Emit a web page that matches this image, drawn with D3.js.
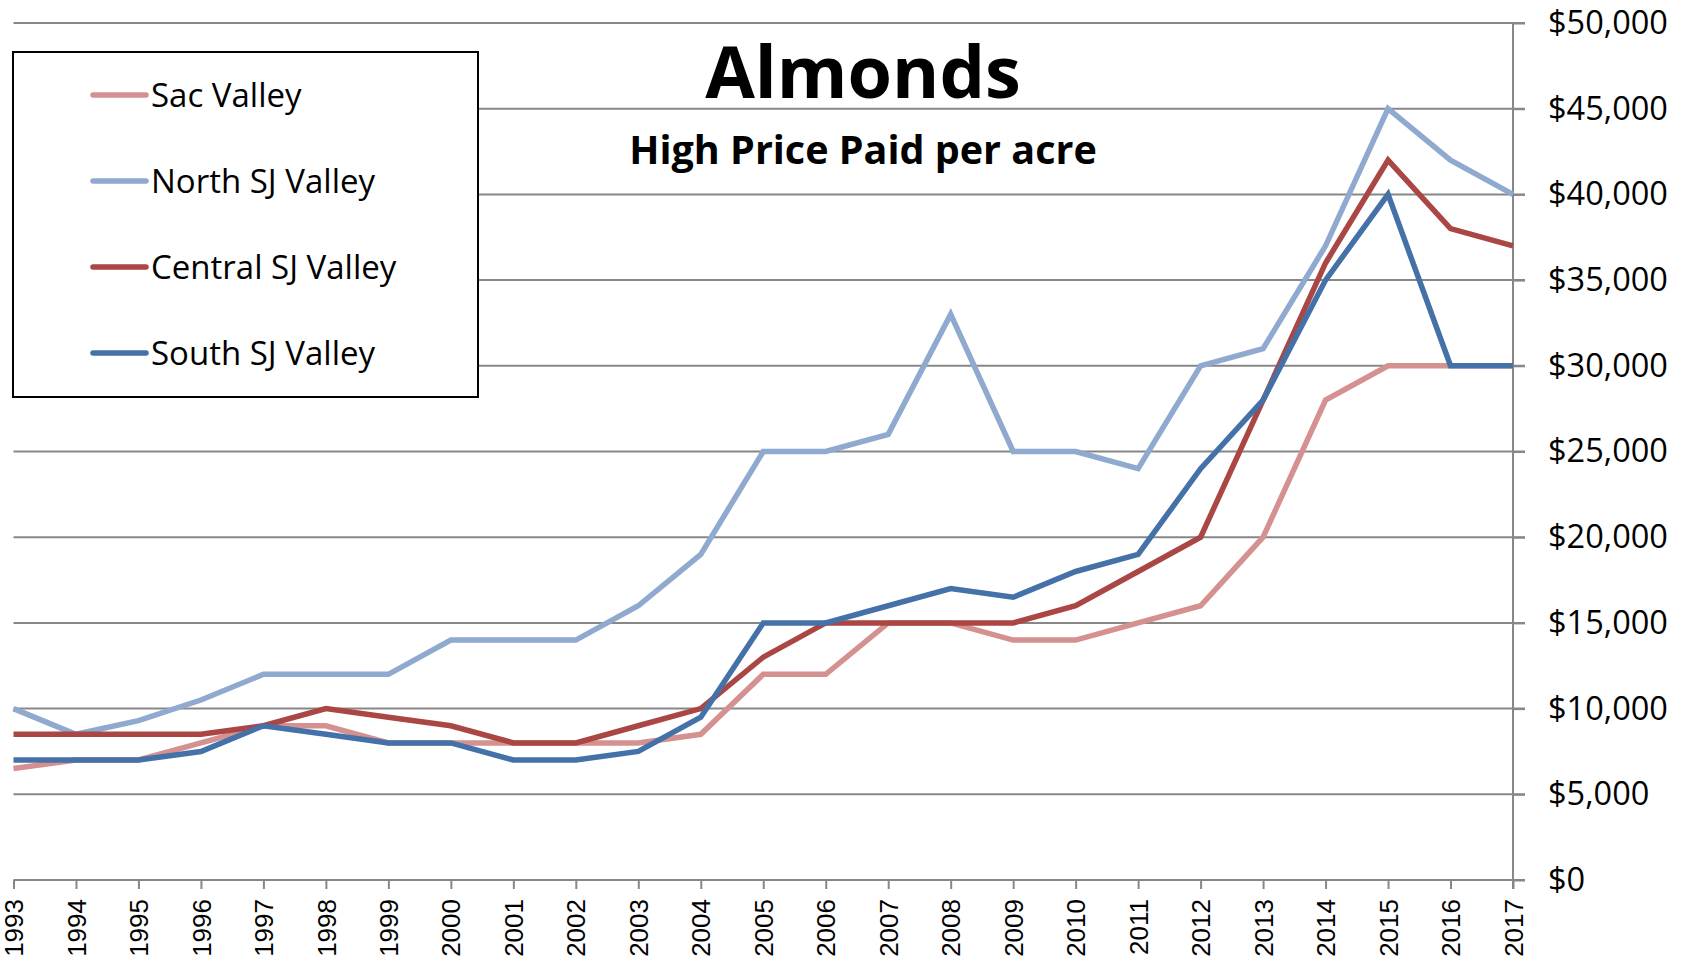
<!DOCTYPE html>
<html>
<head>
<meta charset="utf-8">
<script src="https://cdn.jsdelivr.net/npm/d3@7"></script>
<style>
  body { margin: 0; background: #fff; }
  svg { display: block; }
</style>
</head>
<body>
<div id="chart"></div>
<script>
// values
var years = [1993, 1994, 1995, 1996, 1997, 1998, 1999, 2000, 2001, 2002, 2003, 2004, 2005,
             2006, 2007, 2008, 2009, 2010, 2011, 2012, 2013, 2014, 2015, 2016, 2017];

var sacValley = [6500, 7000, 7000, 8000, 9000, 9000, 8000, 8000, 8000, 8000, 8000, 8500, 12000,
                 12000, 15000, 15000, 14000, 14000, 15000, 16000, 20000, 28000, 30000, 30000, 30000];
var northSJ = [10000, 8500, 9300, 10500, 12000, 12000, 12000, 14000, 14000, 14000, 16000, 19000, 25000,
               25000, 26000, 33000, 25000, 25000, 24000, 30000, 31000, 37000, 45000, 42000, 40000];
var centralSJ = [8500, 8500, 8500, 8500, 9000, 10000, 9500, 9000, 8000, 8000, 9000, 10000, 13000,
                 15000, 15000, 15000, 15000, 16000, 18000, 20000, 28000, 36000, 42000, 38000, 37000];
var southSJ = [7000, 7000, 7000, 7500, 9000, 8500, 8000, 8000, 7000, 7000, 7500, 9500, 15000,
               15000, 16000, 17000, 16500, 18000, 19000, 24000, 28000, 35000, 40000, 30000, 30000];

var seriesNames = ["Sac Valley", "North SJ Valley", "Central SJ Valley", "South SJ Valley"];
var seriesColors = ["#d49190", "#8fa9cf", "#aa4643", "#4471a7"];
var yTicks = [0, 5000, 10000, 15000, 20000, 25000, 30000, 35000, 40000, 45000, 50000];

var series = [sacValley, northSJ, centralSJ, southSJ].map(function(vals, i) {
    return { name: seriesNames[i], color: seriesColors[i], values: vals };
});

// note: "top" is a read-only window global, so use plot* names
var width = 1689, height = 961;
var plotLeft = 13.5, plotRight = 1513, plotTop = 23, plotBottom = 880;

var svg = d3.select("#chart").append("svg")
    .attr("width", width)
    .attr("height", height);

var x = d3.scalePoint()
    .domain(years)
    .range([plotLeft, plotRight]);

var y = d3.scaleLinear()
    .domain([0, 50000])
    .range([plotBottom, plotTop]);

// gridlines (they run out past the right axis as the tick marks)
svg.append("g")
    .selectAll("line")
    .data(yTicks.filter(function(d) { return d > 0; }))
    .enter().append("line")
    .attr("x1", plotLeft)
    .attr("x2", plotRight + 12)
    .attr("y1", function(d) { return y(d); })
    .attr("y2", function(d) { return y(d); })
    .style("stroke", "#878787")
    .style("stroke-width", 2);

// right value axis
var yAxis = d3.axisRight(y)
    .tickValues(yTicks)
    .tickSize(12)
    .tickPadding(23)
    .tickFormat(function(d) { return "$" + d3.format(",")(d); });

var gy = svg.append("g")
    .attr("transform", "translate(" + plotRight + ",0)")
    .call(yAxis);
gy.select(".domain").remove();
gy.selectAll(".tick line").style("stroke", "#878787").style("stroke-width", 2);
gy.selectAll(".tick text")
    .style("font-family", "'Open Sans', 'Noto Sans', sans-serif")
    .style("font-size", "32.5px")
    .style("fill", "#000");
gy.append("line")
    .attr("x1", 0).attr("x2", 0)
    .attr("y1", plotTop).attr("y2", plotBottom + 9)
    .style("stroke", "#878787")
    .style("stroke-width", 2);

// bottom category axis
var xAxis = d3.axisBottom(x)
    .tickSize(9)
    .tickFormat(function(d) { return d; });

var gx = svg.append("g")
    .attr("transform", "translate(0," + plotBottom + ")")
    .call(xAxis);
gx.select(".domain").remove();
gx.append("line")
    .attr("x1", plotLeft).attr("x2", plotRight + 12)
    .attr("y1", 0).attr("y2", 0)
    .style("stroke", "#878787")
    .style("stroke-width", 2);
gx.selectAll(".tick line").style("stroke", "#878787").style("stroke-width", 2);
gx.selectAll(".tick text")
    .attr("transform", "translate(0,19) rotate(-90)")
    .attr("x", 0)
    .attr("y", 0)
    .attr("dy", "0.35em")
    .style("text-anchor", "end")
    .style("font-family", "'Liberation Sans', Arial, sans-serif")
    .style("font-size", "26px")
    .style("fill", "#000");

// lines
var line = d3.line()
    .x(function(d, i) { return x(years[i]); })
    .y(function(d) { return y(d); });

svg.append("g")
    .selectAll("path")
    .data(series)
    .enter().append("path")
    .attr("d", function(d) { return line(d.values); })
    .attr("fill", "none")
    .style("stroke", function(d) { return d.color; })
    .style("stroke-width", 5.5)
    .style("stroke-linejoin", "miter");

// title
svg.append("text")
    .attr("x", 863)
    .attr("y", 98)
    .attr("text-anchor", "middle")
    .style("font-family", "'Open Sans', 'Noto Sans', sans-serif")
    .style("font-weight", "bold")
    .style("font-size", "72px")
    .text("Almonds");

svg.append("text")
    .attr("x", 863)
    .attr("y", 164)
    .attr("text-anchor", "middle")
    .style("font-family", "'Open Sans', 'Noto Sans', sans-serif")
    .style("font-weight", "bold")
    .style("font-size", "39.5px")
    .text("High Price Paid per acre");

// legend
var legend = svg.append("g");
legend.append("rect")
    .attr("x", 13)
    .attr("y", 52)
    .attr("width", 465)
    .attr("height", 345)
    .attr("fill", "#fff")
    .style("stroke", "#000")
    .style("stroke-width", 2);

var item = legend.selectAll("g.item")
    .data(series)
    .enter().append("g")
    .attr("class", "item")
    .attr("transform", function(d, i) { return "translate(0," + (95 + i * 86) + ")"; });

item.append("line")
    .attr("x1", 93).attr("x2", 146)
    .attr("y1", 0).attr("y2", 0)
    .style("stroke", function(d) { return d.color; })
    .style("stroke-width", 5.5)
    .style("stroke-linecap", "round");

item.append("text")
    .attr("x", 151)
    .attr("y", 0)
    .attr("dy", "0.36em")
    .style("font-family", "'Open Sans', 'Noto Sans', sans-serif")
    .style("font-size", "33px")
    .text(function(d) { return d.name; });
</script>
</body>
</html>
